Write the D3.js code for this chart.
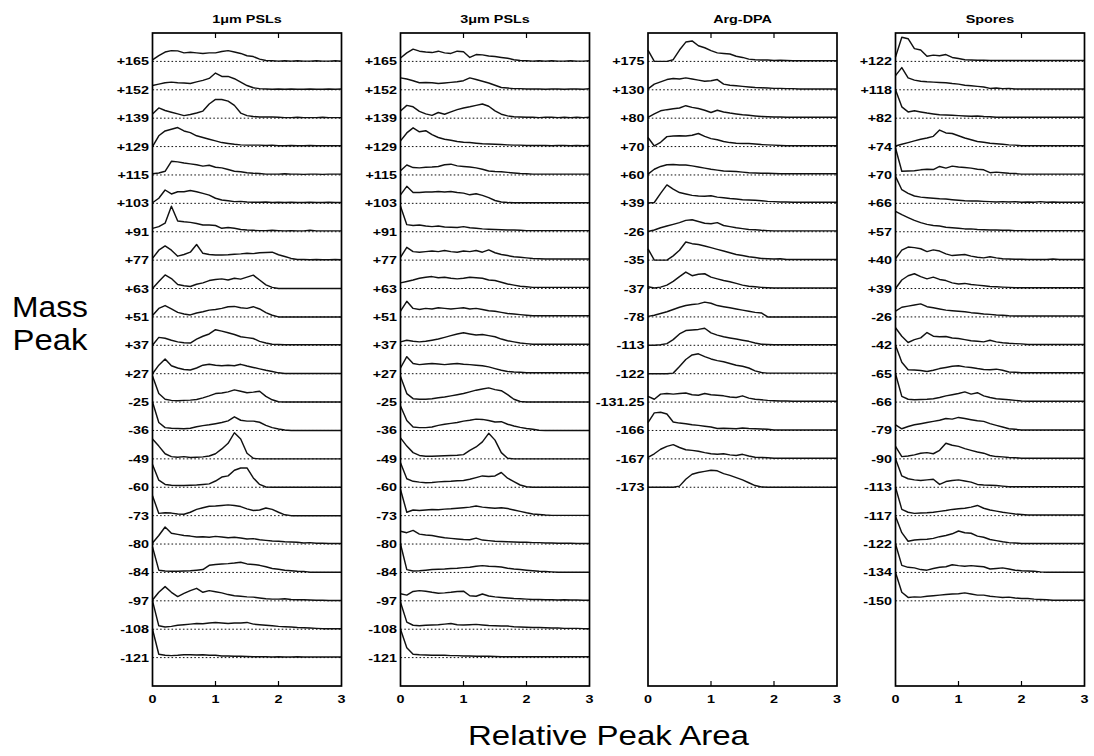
<!doctype html>
<html>
<head>
<meta charset="utf-8">
<style>
    body { margin: 0; background: #fff; }
    svg text { font-family: Arial, "Liberation Sans", sans-serif; fill: #000; }
    .trace { fill: none; stroke: #111; stroke-width: 1.45; stroke-linejoin: round; }
    .base { stroke: #111; stroke-width: 1; stroke-dasharray: 1.6,2.2; }
    .frame { fill: none; stroke: #000; stroke-width: 1.7; }
</style>
<script src="https://d3js.org/d3.v7.min.js"></script>
</head>
<body>
<svg width="1094" height="756"></svg>
<script>

// x positions of every sample (relative peak area)
var xGrid = [0,0.1,0.2,0.3,0.4,0.5,0.6,0.7,0.8,0.9,1.0,1.1,1.2,1.3,1.4,1.5,1.6,1.7,1.8,1.9,2.0,2.1,2.2,2.3,2.4,2.5,2.6,2.7,2.8,2.9,3.0];
var xTicks = [0, 1, 2, 3];

var titles = ["1\u03bcm PSLs", "3\u03bcm PSLs", "Arg-DPA", "Spores"];

var pslPeaks = ["+165","+152","+139","+129","+115","+103","+91","+77","+63","+51","+37","+27","-25","-36","-49","-60","-73","-80","-84","-97","-108","-121"];
var argPeaks = ["+175","+130","+80","+70","+60","+39","-26","-35","-37","-78","-113","-122","-131.25","-166","-167","-173"];
var sporePeaks = ["+122","+118","+82","+74","+70","+66","+57","+40","+39","-26","-42","-65","-66","-79","-90","-113","-117","-122","-134","-150"];

// trace heights, % of one row, one row per mass peak
var psl1 = [
    [5,20,33,38,37,30,32,30,28,30,30,35,38,33,28,20,17,8,3,2,1,2,1,2,1,1,2,1,1,2,1],
    [15,20,25,27,25,24,22,28,33,40,59,47,47,39,27,15,7,4,3,2,3,2,3,2,2,3,2,2,3,2,3],
    [15,36,27,21,15,9,13,18,25,50,66,66,60,45,18,9,6,4,4,4,3,2,2,3,2,2,2,3,2,2,2],
    [0,38,55,61,67,55,49,38,32,26,20,14,11,8,6,5,5,5,4,5,3,3,4,3,3,4,3,3,3,3,3],
    [4,7,13,48,46,42,39,36,31,34,27,25,19,13,11,8,6,5,3,3,3,4,3,3,2,3,3,2,3,3,3],
    [2,18,47,33,41,41,45,41,35,29,18,12,9,6,7,5,4,4,5,3,4,3,4,3,3,4,3,3,4,3,3],
    [12,18,30,90,38,35,33,29,24,24,22,12,15,12,8,6,5,4,4,5,4,3,4,3,3,5,3,3,3,3,3],
    [6,35,50,35,14,20,28,55,24,20,18,18,19,21,22,24,23,26,27,28,19,13,6,2,2,1,2,1,1,2,1],
    [0,25,48,35,14,10,7,15,20,28,32,34,30,36,33,40,47,30,13,4,0,0,0,0,0,0,0,0,0,0,0],
    [5,30,40,28,16,10,7,14,18,24,26,30,36,37,32,30,36,28,15,6,0,0,0,0,0,0,0,0,0,0,0],
    [0,28,25,18,12,9,8,22,32,40,55,50,44,38,30,27,24,14,8,4,3,2,2,2,2,2,2,2,2,2,2],
    [0,30,52,28,20,15,13,20,30,33,30,28,30,28,33,27,22,17,12,8,3,1,1,1,1,1,1,1,1,1,1],
    [92,30,10,6,5,6,7,9,15,22,30,32,36,43,38,33,35,38,20,8,1,0,0,0,0,0,0,0,0,0,0],
    [100,28,10,8,7,6,8,13,17,20,24,28,34,48,36,33,33,29,18,10,5,2,0,0,0,0,0,0,0,0,0],
    [70,45,18,8,6,8,5,6,7,10,18,35,55,92,70,20,2,0,0,0,0,0,0,0,0,0,0,0,0,0,0],
    [80,25,10,7,6,6,7,8,10,12,22,36,40,60,68,68,33,10,1,0,0,0,0,0,0,0,0,0,0,0,0],
    [70,8,10,9,6,5,12,22,28,33,34,36,38,36,32,24,18,20,27,22,12,3,0,0,0,0,0,0,0,0,0],
    [4,30,60,38,34,30,28,25,26,24,27,25,22,24,21,18,19,15,13,11,10,8,7,6,4,5,3,3,2,2,2],
    [90,8,5,4,4,5,6,8,10,25,28,30,31,33,36,30,28,25,20,14,11,8,6,4,3,1,1,1,1,1,1],
    [3,30,50,30,15,26,36,44,30,36,32,28,22,18,16,14,13,10,7,6,6,7,5,4,4,3,2,2,1,1,1],
    [100,12,8,10,14,16,18,20,19,22,24,22,20,22,22,24,18,16,14,12,10,9,8,6,5,4,3,2,2,2,2],
    [100,12,8,7,8,10,10,9,10,8,8,6,6,5,5,4,3,3,3,2,3,2,2,3,2,2,2,2,2,2,2]
];

var psl3 = [
    [12,30,43,36,33,31,36,30,28,36,34,14,24,23,19,17,14,11,6,3,2,1,2,1,2,1,1,2,1,1,2],
    [42,38,32,25,26,25,22,24,26,28,32,42,36,30,24,16,8,6,4,4,3,3,3,2,3,3,2,3,3,2,4],
    [25,45,40,24,15,10,20,14,22,30,36,40,45,50,42,26,14,8,5,4,3,3,2,3,3,2,3,2,3,2,3],
    [20,48,66,52,56,42,32,26,22,18,15,14,12,10,9,8,7,6,5,5,4,4,4,4,3,4,4,3,4,3,4],
    [15,35,26,25,27,28,30,36,38,32,30,28,25,20,14,12,11,9,7,5,4,3,3,3,3,3,3,3,3,3,3],
    [30,60,38,38,40,40,42,40,42,38,36,30,34,28,20,10,5,3,2,2,2,2,2,2,2,2,2,2,2,2,2],
    [90,25,22,24,20,18,20,17,16,15,18,14,12,10,9,8,7,6,6,5,4,4,4,4,4,4,4,4,4,4,4],
    [10,45,30,28,30,32,30,34,30,28,32,30,34,28,36,26,20,16,12,10,8,6,5,4,4,4,4,4,4,4,4],
    [20,25,30,36,40,42,38,40,36,34,36,40,38,36,30,28,22,16,12,8,6,4,4,4,4,4,4,4,4,4,4],
    [20,55,30,26,30,28,32,30,28,30,32,28,30,26,22,20,16,12,10,8,6,4,4,4,4,4,4,4,4,4,4],
    [12,18,14,12,14,18,22,28,34,40,44,40,36,38,34,30,22,16,12,8,6,4,4,4,4,4,4,4,4,4,4],
    [20,60,36,32,34,36,34,32,34,36,33,32,30,28,24,18,12,8,6,5,3,3,3,3,3,3,3,3,3,3,3],
    [90,30,12,10,10,12,15,18,22,26,30,36,42,46,50,44,40,26,10,2,0,0,0,0,0,0,0,0,0,0,0],
    [86,35,12,10,10,12,18,22,25,28,33,36,40,39,35,30,31,22,16,11,7,4,1,0,0,0,0,0,0,0,0],
    [74,45,22,12,9,9,10,11,12,13,15,30,42,60,90,66,22,2,0,0,0,0,0,0,0,0,0,0,0,0,0],
    [86,30,21,18,16,17,19,20,21,23,24,28,34,40,38,40,52,32,20,8,2,0,0,0,0,0,0,0,0,0,0],
    [92,12,20,18,20,22,21,23,24,26,28,30,34,30,28,26,28,25,20,15,10,6,4,2,1,1,1,1,1,1,1],
    [45,40,48,35,32,30,26,22,20,18,16,15,21,14,12,10,9,8,7,6,6,5,5,4,4,3,3,3,2,2,2],
    [100,10,5,6,8,10,11,12,14,15,17,18,22,24,22,21,19,15,12,10,8,6,4,3,2,1,1,1,1,1,1],
    [25,20,33,36,34,30,27,28,30,33,34,18,16,24,17,14,12,10,8,7,6,5,5,4,4,3,4,3,3,2,2],
    [95,25,14,12,14,15,16,18,20,16,15,16,17,15,13,12,11,11,9,8,7,6,6,5,4,4,3,3,3,2,2],
    [100,35,12,10,9,8,8,8,7,7,6,6,5,5,5,4,3,3,3,3,3,3,3,3,3,3,3,3,3,3,3]
];

var argDpa = [
    [40,0,0,0,6,40,68,72,55,48,38,30,28,26,18,14,8,6,5,5,3,4,3,2,2,2,2,2,2,2,2],
    [3,20,28,36,40,38,42,38,34,30,32,36,20,16,14,12,10,8,7,6,5,5,4,4,3,3,3,3,3,3,3],
    [3,15,26,30,33,36,44,38,34,28,20,28,22,18,15,12,10,8,6,5,4,4,3,3,3,3,3,3,3,3,3],
    [32,2,15,35,37,38,37,40,46,36,28,24,18,14,12,11,11,9,7,6,5,4,3,3,3,3,3,3,3,3,3],
    [3,20,30,36,37,35,35,32,28,24,20,17,14,13,12,10,8,7,6,6,5,4,4,4,4,4,4,4,4,4,4],
    [1,3,35,65,50,38,33,28,26,25,27,22,20,17,15,13,12,11,9,7,6,5,5,4,4,4,4,4,4,4,4],
    [1,6,14,20,26,32,40,42,36,30,28,32,22,18,14,11,8,7,5,4,3,3,3,3,3,3,3,3,3,3,3],
    [40,0,0,0,15,35,64,58,55,50,44,38,32,26,20,16,12,9,6,5,4,5,2,2,2,2,2,2,2,2,2],
    [6,2,5,12,25,42,58,45,50,52,40,34,28,24,18,12,8,6,4,3,2,2,2,2,2,2,2,2,2,2,2],
    [2,6,12,18,26,34,40,44,46,52,48,40,36,32,28,24,20,16,14,0,0,0,0,0,0,0,0,0,0,0,0],
    [0,0,2,6,20,40,52,54,56,60,44,36,30,26,22,18,14,8,4,3,2,2,2,2,2,2,2,2,2,2,2],
    [0,0,0,0,2,25,50,66,70,60,52,46,42,36,30,26,20,10,4,2,2,2,2,2,2,2,2,2,2,2,2],
    [20,10,28,30,28,30,32,26,24,30,26,24,22,18,16,22,14,10,8,6,5,4,4,3,3,3,3,3,3,3,3],
    [28,62,64,58,30,26,24,20,18,15,12,7,8,7,6,9,7,6,5,4,2,2,2,2,2,2,2,2,2,2,2],
    [5,18,34,44,50,40,32,30,27,22,18,16,18,14,12,16,10,6,5,4,2,2,2,2,2,2,2,2,2,2,2],
    [0,0,0,0,0,4,28,46,52,56,60,58,48,42,34,26,16,6,1,0,0,0,0,0,0,0,0,0,0,0,0]
];

var spores = [
    [15,85,80,45,40,18,22,20,24,14,10,6,5,4,4,3,3,3,3,3,3,3,3,3,3,3,3,3,3,3,3],
    [50,78,42,34,30,28,27,26,25,22,20,16,14,12,10,5,6,4,5,3,3,3,3,3,3,3,3,3,3,3,3],
    [100,40,22,26,22,18,15,12,11,10,9,8,7,8,6,5,3,3,3,3,3,3,3,3,3,3,3,3,3,3,3],
    [2,8,14,20,26,30,36,58,48,46,38,30,24,18,15,12,10,8,6,5,3,3,3,3,3,3,3,3,3,3,3],
    [95,13,14,15,18,20,19,30,24,31,28,26,24,20,18,8,10,8,6,5,3,3,3,3,3,3,3,3,3,3,3],
    [95,48,35,26,22,20,18,16,15,13,11,9,8,8,7,6,5,6,5,6,4,5,4,6,4,5,4,4,4,4,4],
    [72,60,50,40,32,26,22,20,16,14,12,10,10,8,7,6,6,5,5,4,4,4,4,4,4,4,4,4,4,4,4],
    [5,35,46,44,40,30,36,32,22,16,18,20,14,10,8,12,8,5,4,3,3,2,2,2,2,4,2,2,2,2,2],
    [0,30,45,52,42,34,40,32,28,20,16,18,14,12,10,7,6,5,4,3,3,3,3,3,3,3,3,3,3,3,3],
    [20,34,38,42,46,36,32,28,24,22,20,18,15,13,10,9,7,6,4,3,3,3,3,3,3,3,3,3,3,3,3],
    [62,32,10,20,26,45,32,30,31,26,24,20,16,14,12,18,12,9,7,6,5,3,3,3,3,3,3,3,3,3,3],
    [100,40,14,13,11,8,12,18,22,26,28,24,22,18,15,14,16,12,6,5,3,3,3,3,3,3,3,3,3,3,3],
    [100,20,10,8,9,10,12,16,22,26,30,36,28,33,22,16,12,10,8,6,4,3,3,3,3,3,3,3,3,3,3],
    [20,6,14,20,24,28,32,36,42,40,46,42,38,34,32,24,18,12,6,4,2,2,2,2,2,2,2,2,2,2,2],
    [44,8,10,14,20,22,18,30,55,48,44,36,30,24,20,12,8,7,5,4,2,2,2,2,2,2,2,2,2,2,2],
    [100,40,30,26,24,26,28,10,20,24,26,22,18,10,8,7,6,4,2,2,2,2,2,2,2,2,2,2,2,2,2],
    [100,22,12,8,9,10,12,15,18,22,24,26,30,36,26,20,16,12,9,6,4,2,2,2,2,2,2,2,2,2,2],
    [98,40,10,14,16,17,20,26,30,36,46,40,38,28,24,16,12,8,5,4,2,2,2,2,2,2,2,2,2,2,2],
    [100,25,18,16,10,8,14,18,20,27,24,22,24,22,20,12,14,16,12,8,6,5,4,2,1,1,1,1,1,1,1],
    [100,30,12,14,13,16,18,20,22,24,25,28,24,20,20,16,14,12,13,10,8,8,6,5,4,2,2,2,2,2,2]
];

var panels = [
    { title: titles[0], peaks: pslPeaks, rows: psl1 },
    { title: titles[1], peaks: pslPeaks, rows: psl3 },
    { title: titles[2], peaks: argPeaks, rows: argDpa },
    { title: titles[3], peaks: sporePeaks, rows: spores }
];

var svg = d3.select("svg");
var plotTop = 33, plotBottom = 686, nSlots = 23;
var lefts = [152.5, 400.5, 648, 895.5], pw = 189;
var stretch = 1.25;

var y = d3.scaleLinear().domain([0, nSlots]).range([plotTop, plotBottom]);

function smallText(sel, x, yy, anchor, str) {
    sel.append("text")
       .attr("transform", "translate(" + x + "," + yy + ") scale(" + stretch + ",1)")
       .attr("text-anchor", anchor)
       .attr("font-size", "11.5px")
       .attr("font-weight", "bold")
       .text(str);
}

panels.forEach(function(p, i) {
    var x = d3.scaleLinear().domain([0, 3]).range([lefts[i], lefts[i] + pw]);
    var g = svg.append("g");

    // dotted baselines
    g.selectAll(".base")
     .data(p.rows)
     .enter().append("line")
     .attr("class", "base")
     .attr("x1", x(0)).attr("x2", x(3))
     .attr("y1", function(d, k) { return y(k + 1); })
     .attr("y2", function(d, k) { return y(k + 1); });

    // traces
    g.selectAll(".trace")
     .data(p.rows)
     .enter().append("path")
     .attr("class", "trace")
     .attr("d", function(vals, k) {
         var line = d3.line()
             .x(function(v, j) { return x(xGrid[j]); })
             .y(function(v) { return y(k + 1 - Math.min(v, 105) / 100); });
         return line(vals);
     });

    // frame
    g.append("rect")
     .attr("class", "frame")
     .attr("x", x(0)).attr("y", plotTop)
     .attr("width", x(3) - x(0)).attr("height", plotBottom - plotTop);

    // inner ticks at 1 and 2, top and bottom
    [1, 2].forEach(function(t) {
        g.append("line").attr("stroke", "#000").attr("stroke-width", 1.2)
         .attr("x1", x(t)).attr("x2", x(t)).attr("y1", plotTop).attr("y2", plotTop + 5);
        g.append("line").attr("stroke", "#000").attr("stroke-width", 1.2)
         .attr("x1", x(t)).attr("x2", x(t)).attr("y1", plotBottom).attr("y2", plotBottom - 5);
    });

    // x tick labels
    xTicks.forEach(function(t) {
        smallText(g, x(t), plotBottom + 17, "middle", t);
    });

    // mass peak labels
    p.peaks.forEach(function(lab, k) {
        smallText(g, x(0) - 3.5, y(k + 1) + 4, "end", lab);
    });

    // title
    smallText(g, (x(0) + x(3)) / 2, 23, "middle", p.title);
});

svg.append("text").attr("x", 50).attr("y", 317).attr("text-anchor", "middle")
   .attr("font-size", "30px").attr("textLength", 76).attr("lengthAdjust", "spacingAndGlyphs")
   .text("Mass");
svg.append("text").attr("x", 50).attr("y", 350).attr("text-anchor", "middle")
   .attr("font-size", "30px").attr("textLength", 75).attr("lengthAdjust", "spacingAndGlyphs")
   .text("Peak");
svg.append("text").attr("x", 608.5).attr("y", 745).attr("text-anchor", "middle")
   .attr("font-size", "28px").attr("textLength", 281).attr("lengthAdjust", "spacingAndGlyphs")
   .text("Relative Peak Area");

</script>
</body>
</html>
